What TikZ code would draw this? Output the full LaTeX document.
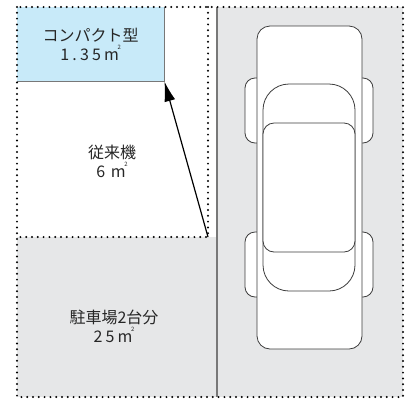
\documentclass[tikz,border=0pt]{standalone}
\usepackage{fontspec}
\setmainfont{Noto Sans CJK JP}
\newfontfamily\spacedfont[LetterSpace=20]{Noto Sans CJK JP}
\usetikzlibrary{arrows.meta}

\definecolor{lotgray}{RGB}{230,231,232}
\definecolor{compactblue}{RGB}{200,234,249}
\definecolor{linegray}{RGB}{120,120,120}
\definecolor{carline}{RGB}{60,60,60}

% square metres: m with a small 2 tucked over it
\newcommand{\sqmetre}{\kern3pt m\kern-1.2pt\raisebox{1.25ex}{\fontsize{6}{6}\selectfont 2}}

\tikzset{
  dotline/.style={line width=2.2pt, dash pattern=on 0pt off 5.8pt, line cap=round},
  areatext/.style={align=center, text=black!85, font=\fontsize{16}{22}\selectfont},
  compactbox/.style={fill=compactblue, minimum width=147pt, minimum height=74pt,
    inner sep=0pt, anchor=north west},
  boxedge/.style={draw=linegray, line width=0.8pt},
  carpart/.style={draw=carline, line width=0.8pt, fill=white},
  pointer/.style={line width=1.2pt, -{Latex[length=20pt,width=11pt]}},
}

\begin{document}
\begin{tikzpicture}[x=1pt,y=-1pt]
  \useasboundingbox (0,0) rectangle (406,405);

  % parking lot and the strip under the old unit
  \fill[lotgray] (217,7) rectangle (403,397);
  \fill[lotgray] (17,237) rectangle (217,397);

  % compact unit footprint
  \node[compactbox, areatext] (compact) at (17,7)
    {コンパクト型\\[-3pt]{\spacedfont 1.35}\sqmetre};
  \draw[boxedge] (compact.north east) -- (compact.south east) -- (compact.south west);

  % lot divider
  \draw[linegray, line width=1.2pt] (217,7) -- (217,397);

  % dotted outlines
  \draw[dotline] (17,7) rectangle (403,397);
  \draw[dotline] (208,7) -- (208,237) -- (17,237);
  \coordinate (oldcorner) at (208,237);

  % car seen from above
  \draw[carpart, rounded corners=10pt] (245,78) rectangle (270,143);
  \draw[carpart, rounded corners=10pt] (245,232) rectangle (270,297);
  \draw[carpart, rounded corners=10pt] (349,78) rectangle (373,143);
  \draw[carpart, rounded corners=10pt] (349,232) rectangle (373,297);
  \draw[carpart, rounded corners=13pt] (257,26) rectangle (362,349);
  \draw[carpart, rounded corners=26pt] (263,84) rectangle (355,291);
  \draw[carpart, rounded corners=11pt] (263,123) rectangle (355,252);

  % labels
  \node[areatext] (oldunit) at (112,161) {従来機\\[-3pt]6\,\sqmetre};
  \node[areatext] (parking) at (114,326) {駐車場{\spacedfont 2}台分\\[-3pt]{\spacedfont 25}\sqmetre};

  \draw[pointer] (oldcorner) -- (compact.south east);
\end{tikzpicture}
\end{document}
